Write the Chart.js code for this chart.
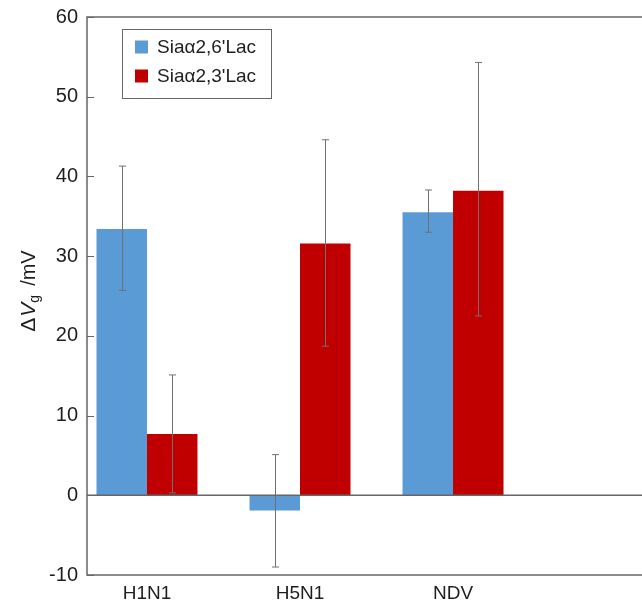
<!DOCTYPE html>
<html>
<head>
<meta charset="utf-8">
<script src="https://cdn.jsdelivr.net/npm/chart.js@4"></script>
<style>
  body { margin: 0; background: #fff; }
  #wrap { width: 642px; height: 606px; position: relative; }
</style>
</head>
<body>
<div id="wrap"><canvas id="chart"></canvas></div>
<script>
// data
const categories = ["H1N1", "H5N1", "NDV"];
const seriesNames = ["Siaα2,6'Lac", "Siaα2,3'Lac"];
const lac26 = [33.4, -1.9, 35.5];
const lac26High = [41.3, 5.1, 38.3];
const lac26Low = [25.7, -9.0, 33.0];
const lac23 = [7.7, 31.6, 38.2];
const lac23High = [15.1, 44.6, 54.3];
const lac23Low = [0.3, 18.7, 22.5];
const yTicks = [-10, 0, 10, 20, 30, 40, 50, 60];

const blue = "#5B9BD5";
const red = "#C00000";
const axisColor = "#666666";
const font = "'Liberation Sans', Arial, sans-serif";

function points(values) {
  return values.map((v, i) => ({ x: i + 1, y: v }));
}

// frame, zero line, inward ticks, error bars, legend and y title
const extras = {
  id: "extras",
  afterDatasetsDraw(chart) {
    const ctx = chart.ctx;
    const area = chart.chartArea;
    const y = chart.scales.y;
    ctx.save();

    // error bars
    const errs = [[lac26High, lac26Low], [lac23High, lac23Low]];
    errs.forEach((pair, d) => {
      const meta = chart.getDatasetMeta(d);
      meta.data.forEach((bar, i) => {
        const cx = Math.round(bar.x) + 0.5;
        const top = y.getPixelForValue(pair[0][i]);
        const bot = y.getPixelForValue(pair[1][i]);
        ctx.strokeStyle = "#707070";
        ctx.lineWidth = 1;
        ctx.beginPath();
        ctx.moveTo(cx, top);
        ctx.lineTo(cx, bot);
        ctx.moveTo(cx - 3.5, top);
        ctx.lineTo(cx + 3.5, top);
        ctx.moveTo(cx - 3.5, bot);
        ctx.lineTo(cx + 3.5, bot);
        ctx.stroke();
      });
    });

    // zero line + frame
    ctx.strokeStyle = axisColor;
    ctx.lineWidth = 1.5;
    const zero = y.getPixelForValue(0);
    ctx.beginPath();
    ctx.moveTo(area.left, zero);
    ctx.lineTo(area.right, zero);
    ctx.moveTo(area.right, area.top);
    ctx.lineTo(area.left, area.top);
    ctx.lineTo(area.left, area.bottom);
    ctx.lineTo(area.right, area.bottom);
    ctx.stroke();

    // ticks pointing inward
    ctx.lineWidth = 1;
    ctx.beginPath();
    yTicks.forEach(t => {
      const py = Math.round(y.getPixelForValue(t)) + 0.5;
      ctx.moveTo(area.left, py);
      ctx.lineTo(area.left + 7, py);
    });
    ctx.stroke();

    // legend box
    const lx = area.left + 35, ly = area.top + 12;
    ctx.strokeStyle = axisColor;
    ctx.lineWidth = 1;
    ctx.strokeRect(lx + 0.5, ly + 0.5, 149, 69);
    ctx.font = "19px " + font;
    ctx.textBaseline = "middle";
    ctx.textAlign = "left";
    chart.data.datasets.forEach((ds, i) => {
      const ry = ly + 18 + i * 29;
      ctx.fillStyle = ds.backgroundColor;
      ctx.fillRect(lx + 13, ry - 6.5, 13, 13);
      ctx.fillStyle = "#1e1e1e";
      ctx.fillText(ds.label, lx + 35, ry + 1);
    });

    // y title: ΔVg /mV with italic V and subscript g
    const parts = [
      { t: "Δ", f: "21px " + font, dy: 7.5, gap: 1 },
      { t: "V", f: "italic 21px " + font, dy: 7.5, gap: 0 },
      { t: "g", f: "14px " + font, dy: 12, gap: 9 },
      { t: "/mV", f: "20px " + font, dy: 7.5, gap: 0 }
    ];
    let total = 0;
    parts.forEach(p => { ctx.font = p.f; p.w = ctx.measureText(p.t).width; total += p.w + p.gap; });
    ctx.translate(27, 291);
    ctx.rotate(-Math.PI / 2);
    ctx.fillStyle = "#1e1e1e";
    ctx.textBaseline = "alphabetic";
    let px = -total / 2;
    parts.forEach(p => {
      ctx.font = p.f;
      ctx.fillText(p.t, px, p.dy);
      px += p.w + p.gap;
    });
    ctx.restore();
  }
};

new Chart(document.getElementById("chart"), {
  type: "bar",
  data: {
    datasets: [
      { label: seriesNames[0], data: points(lac26), backgroundColor: blue },
      { label: seriesNames[1], data: points(lac23), backgroundColor: red }
    ]
  },
  options: {
    responsive: true,
    maintainAspectRatio: false,
    animation: false,
    layout: { padding: { top: 17, right: 0, left: 0, bottom: 0 } },
    categoryPercentage: 0.66,
    barPercentage: 1.0,
    plugins: { legend: { display: false }, tooltip: { enabled: false } },
    scales: {
      x: {
        type: "linear",
        offset: false,
        min: 0.608,
        max: 4.235,
        grid: { display: false, drawTicks: false },
        border: { display: false },
        afterFit(scale) {
          scale.height = 31;
          scale.paddingLeft = 0;
          scale.paddingRight = 0;
        },
        afterBuildTicks(scale) { scale.ticks = categories.map((c, i) => ({ value: i + 1 })); },
        ticks: {
          autoSkip: false,
          padding: 7,
          color: "#1e1e1e",
          font: { family: font, size: 19 },
          callback: v => categories[v - 1]
        }
      },
      y: {
        min: -10,
        max: 60,
        grid: { display: false, drawTicks: false },
        border: { display: false },
        afterFit(scale) {
          scale.width = 87;
          scale.paddingTop = 0;
          scale.paddingBottom = 0;
        },
        afterBuildTicks(scale) { scale.ticks = yTicks.map(v => ({ value: v })); },
        ticks: {
          padding: 9,
          color: "#1e1e1e",
          font: { family: font, size: 20 }
        }
      }
    }
  },
  plugins: [extras]
});
</script>
</body>
</html>
